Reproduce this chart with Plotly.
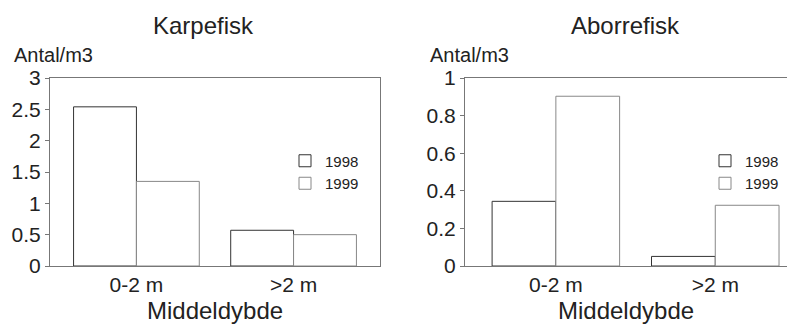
import plotly.graph_objects as go
from plotly.subplots import make_subplots

# Data
categories = ["0-2 m", ">2 m"]
years = ["1998", "1999"]
karpe_1998 = [2.54, 0.57]
karpe_1999 = [1.35, 0.50]
aborre_1998 = [0.344, 0.051]
aborre_1999 = [0.903, 0.323]

line_colors = {"1998": "#333333", "1999": "#888888"}
text_color = "#222222"
axis_color = "#777777"
font_family = "Liberation Sans, Arial, sans-serif"

W, H = 787, 324
top_px, bottom_px = 78, 266


def py(p):
    # pixel row -> paper y
    return (bottom_px - p) / (bottom_px - top_px)


fig = make_subplots(rows=1, cols=2)

panels = [
    (1, "legend", {"1998": karpe_1998, "1999": karpe_1999}),
    (2, "legend2", {"1998": aborre_1998, "1999": aborre_1999}),
]
for col, legend_name, series in panels:
    for year in years:
        fig.add_trace(go.Bar(
            x=categories,
            y=series[year],
            name=year,
            legend=legend_name,
            offsetgroup=year,
            marker=dict(color="white", line=dict(color=line_colors[year], width=1)),
        ), row=1, col=col)

axis_common = dict(
    showline=True, linecolor=axis_color, linewidth=1, mirror=True,
    showgrid=False, zeroline=False,
    tickfont=dict(size=21, color=text_color, family=font_family),
)

fig.update_xaxes(**axis_common, ticks="")
fig.update_yaxes(**axis_common, ticks="outside", ticklen=4, tickcolor=axis_color)

fig.update_layout(
    xaxis=dict(domain=[50 / W, 380 / W], range=[-0.55, 1.55]),
    xaxis2=dict(domain=[465 / W, 1.0], range=[-0.57, 1.45]),
    yaxis=dict(range=[0, 3], dtick=0.5),
    yaxis2=dict(range=[0, 1], dtick=0.2),
    barmode="group",
    bargap=0.2,
    bargroupgap=0,
    width=W,
    height=H,
    margin=dict(l=0, r=0, t=top_px, b=H - bottom_px),
    plot_bgcolor="white",
    paper_bgcolor="white",
    font=dict(family=font_family, color=text_color),
    legend=dict(
        x=285 / W, y=py(172), xanchor="left", yanchor="middle",
        font=dict(size=15, color=text_color), bgcolor="rgba(0,0,0,0)",
        tracegroupgap=0, itemwidth=30,
    ),
    legend2=dict(
        x=705 / W, y=py(172), xanchor="left", yanchor="middle",
        font=dict(size=15, color=text_color), bgcolor="rgba(0,0,0,0)",
        tracegroupgap=0, itemwidth=30,
    ),
)

# Panel titles, y labels and x titles
texts = [
    ("Karpefisk", 203, 25, 24, "center"),
    ("Aborrefisk", 625, 25, 24, "center"),
    ("Antal/m3", 12, 55, 20, "left"),
    ("Antal/m3", 428, 55, 20, "left"),
    ("Middeldybde", 215, 310, 24, "center"),
    ("Middeldybde", 626, 310, 24, "center"),
]
for txt, xp, yp, size, anchor in texts:
    fig.add_annotation(
        text=txt, xref="paper", yref="paper", x=xp / W, y=py(yp),
        xanchor=anchor, yanchor="middle", showarrow=False,
        font=dict(size=size, color=text_color, family=font_family),
    )

# drop the browser's default body margin so the figure sits at 0,0
fig.write_html(
    "out.html",
    config={"displayModeBar": False},
    post_script="document.body.style.margin='0';",
)
